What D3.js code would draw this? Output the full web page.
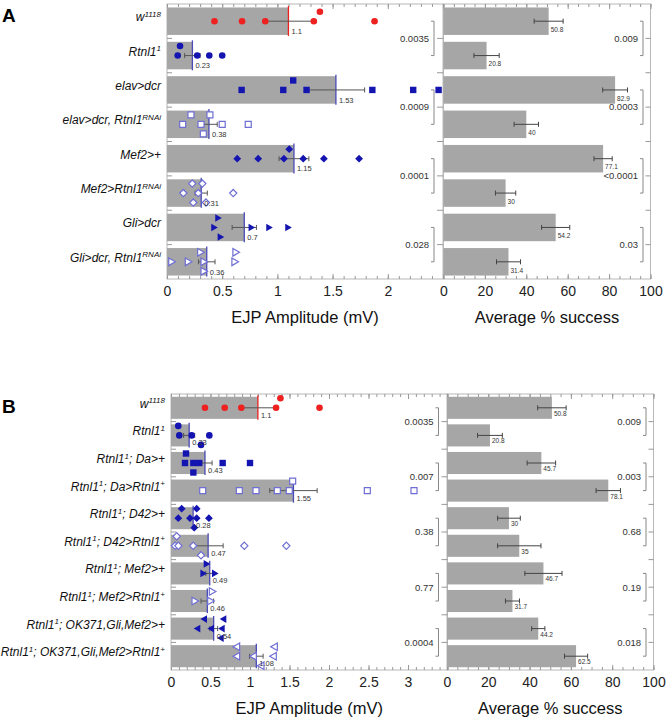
<!DOCTYPE html>
<html><head><meta charset="utf-8">
<script src="https://cdn.jsdelivr.net/npm/d3@7"></script>
<style>body{margin:0;background:#fff} svg{display:block}</style>
</head><body><svg id="c" width="668" height="717"></svg>
<script>
// ---------------- DATA ----------------
// Panel A
const labelsA = ["w{1118}", "Rtnl1{1}", "elav>dcr", "elav>dcr, Rtnl1{RNAi}", "Mef2>+", "Mef2>Rtnl1{RNAi}", "Gli>dcr", "Gli>dcr, Rtnl1{RNAi}"];
const meanA = [1.1, 0.23, 1.53, 0.38, 1.15, 0.31, 0.7, 0.36];
const seA = [0.22, 0.07, 0.26, 0.075, 0.135, 0.055, 0.11, 0.075];
const pointsA = [
  [0.43, 0.68, 0.89, 1.33, 1.385, 1.88],
  [0.118, 0.097, 0.274, 0.383, 0.50],
  [0.676, 1.053, 1.143, 1.264, 1.86, 2.23, 2.46],
  [0.217, 0.389, 0.142, 0.308, 0.50, 0.736, 0.329],
  [0.636, 0.826, 1.059, 1.107, 1.234, 1.421, 1.74],
  [0.229, 0.32, 0.148, 0.283, 0.60, 0.238, 0.353],
  [0.464, 0.428, 0.486, 0.766, 0.926, 1.098],
  [0.305, 0.624, 0.043, 0.193, 0.335, 0.615, 0.335]
];
const lanesA = [
  [0, 0, 0, 0, -1, 0],
  [-1, 0, 0, 0, 0],
  [0, 0, -1, 0, 0, 0, 0],
  [-1, -1, 0, 0, 0, 0, 1],
  [0, 0, 0, -1, 0, 0, 0],
  [-1, -1, 0, 0, 0, 1, 1],
  [-1, 0, 1, 0, 0, 0],
  [-1, -1, 0, 0, 0, 0, 1]
];
const successA = [50.8, 20.8, 82.9, 40, 77.1, 30, 54.2, 31.4];
const successSeA = [7.0, 6.1, 6.0, 5.9, 4.4, 4.9, 6.8, 5.8];
const pLeftA = ["0.0035", "0.0009", "0.0001", "0.028"];
const pRightA = ["0.009", "0.0003", "<0.0001", "0.03"];
const ampTicksA = [0, 0.5, 1, 1.5, 2];

// Panel B
const labelsB = ["w{1118}", "Rtnl1{1}", "Rtnl1{1}; Da>+", "Rtnl1{1}; Da>Rtnl1{+}", "Rtnl1{1}; D42>+", "Rtnl1{1}; D42>Rtnl1{+}",
  "Rtnl1{1}; Mef2>+", "Rtnl1{1}; Mef2>Rtnl1{+}", "Rtnl1{1}; OK371,Gli,Mef2>+", "Rtnl1{1}; OK371,Gli,Mef2>Rtnl1{+}"];
const meanB = [1.1, 0.23, 0.43, 1.55, 0.28, 0.47, 0.49, 0.46, 0.54, 1.08];
const seB = [0.22, 0.07, 0.09, 0.3, 0.05, 0.19, 0.05, 0.08, 0.05, 0.086];
const pointsB = [
  [0.43, 0.68, 0.89, 1.33, 1.385, 1.88],
  [0.092, 0.105, 0.262, 0.485, 0.38],
  [0.19, 0.177, 0.283, 0.358, 0.654, 1.0, 0.283],
  [0.401, 0.865, 1.076, 1.346, 1.497, 1.54, 2.485, 3.076],
  [0.135, 0.325, 0.092, 0.24, 0.325, 0.48, 0.295],
  [0.072, 0.051, 0.093, 0.281, 0.928, 1.46, 0.38],
  [0.452, 0.41, 0.557],
  [0.523, 0.304, 0.502],
  [0.418, 0.662, 0.333, 0.506, 0.642, 0.629],
  [0.831, 1.308, 0.831, 1.042, 1.295, 1.139]
];
const lanesB = [
  [0, 0, 0, 0, -1, 0],
  [-1, 0, 0, 0, 1],
  [-1, 0, 0, 0, 0, 0, 1],
  [0, 0, 0, 0, 0, -1, 0, 0],
  [-1, -1, 0, 0, 0, 0, 1],
  [-1, 0, 0, 0, 0, 0, 1],
  [-1, 0, 0],
  [-1, 0, 0],
  [-1, -1, 0, 0, 0, 1],
  [-1, -1, 0, 0, 0, 1]
];
const successB = [50.8, 20.8, 45.7, 78.1, 30, 35, 46.7, 31.7, 44.2, 62.5];
const successSeB = [6.9, 6.0, 6.9, 5.9, 5.5, 10.5, 9.0, 3.4, 3.2, 5.6];
const pLeftB = ["0.0035", "0.007", "0.38", "0.77", "0.0004"];
const pRightB = ["0.009", "0.003", "0.68", "0.19", "0.018"];
const ampTicksB = [0, 0.5, 1, 1.5, 2, 2.5, 3];

const successTicks = [0, 20, 40, 60, 80, 100];

// marker styles (shape, filled?, colour)
const markersA = ["circleRed", "circle", "square", "squareOpen", "diamond", "diamondOpen", "triR", "triROpen"];
const markersB = ["circleRed", "circle", "square", "squareOpen", "diamond", "diamondOpen", "triR", "triROpen", "triL", "triLOpen"];

// ---------------- DRAW ----------------
const FONT = "'Liberation Sans', Arial, Helvetica, sans-serif";
const svg = d3.select("#c");
const BLUE = "#1414b0", RED = "#ee2020", OPEN = "#6e6ed4", MEANBLUE = "#4a4ab8", BAR = "#a6a6a6", FRAME = "#b8b8b8";

function shapePath(kind) {
  const base = kind.replace("Open", "").replace("Red", "");
  const open = kind.endsWith("Open");
  if (base === "circle") { const r = 3.3; return `M${r},0A${r},${r} 0 1,1 ${-r},0A${r},${r} 0 1,1 ${r},0Z`; }
  if (base === "square") { const h = open ? 3.0 : 3.2; return `M${-h},${-h}h${2*h}v${2*h}h${-2*h}Z`; }
  if (base === "diamond") { const d = open ? 3.6 : 3.9; return `M0,${-d}L${d},0L0,${d}L${-d},0Z`; }
  if (base === "triR") return `M-3,-3.8L3.6,0L-3,3.8Z`;
  if (base === "triL") return `M3,-3.8L-3.6,0L3,3.8Z`;
}
function markerFill(kind) { return kind.endsWith("Open") ? "#fff" : (kind === "circleRed" ? RED : BLUE); }
function markerStroke(kind) { return kind.endsWith("Open") ? OPEN : "none"; }

function addLabel(sel, txt) {
  const parts = txt.split(/(\{[^}]*\})/).filter(s => s.length);
  let shifted = false;
  parts.forEach(p => {
    if (p.startsWith("{")) {
      sel.append("tspan").attr("font-size", "8px").attr("dy", shifted ? 0 : -4.5).text(p.slice(1, -1));
      shifted = true;
    } else {
      sel.append("tspan").attr("dy", shifted ? 4.5 : 0).text(p);
      shifted = false;
    }
  });
}

function panel(cfg) {
  const g = svg.append("g");
  const n = cfg.labels.length;
  const y = d3.scaleBand().domain(d3.range(n)).range([cfg.top, cfg.bottom]).paddingInner(0.2).paddingOuter(0.1);
  const xL = d3.scaleLinear().domain([0, cfg.leftMax]).range([cfg.lx0, cfg.lx1]);
  const xR = d3.scaleLinear().domain([0, 100]).range([cfg.rx0, cfg.rx1]);
  const bw = y.bandwidth(), step = y.step();
  const cy = i => y(i) + bw / 2;
  const laneOff = 9.5;

  // frames
  g.append("rect").attr("x", cfg.lx0).attr("y", cfg.top).attr("width", cfg.lx1 - cfg.lx0).attr("height", cfg.bottom - cfg.top)
    .attr("fill", "none").attr("stroke", FRAME).attr("stroke-width", 1);
  g.append("rect").attr("x", cfg.rx0).attr("y", cfg.top).attr("width", cfg.rx1 - cfg.rx0).attr("height", cfg.bottom - cfg.top)
    .attr("fill", "none").attr("stroke", FRAME).attr("stroke-width", 1);

  // minor / major ticks top & bottom
  const styleTicks = s => { s.select(".domain").remove(); s.selectAll("line").attr("stroke", "#999"); };
  const minorL = d3.range(0, cfg.leftMax + 1e-9, 0.1).map(v => +v.toFixed(2));
  const majorL = d3.range(0, cfg.leftMax + 1e-9, 0.5);
  const minorR = d3.range(0, 100.1, 5);
  const majorR = d3.range(0, 100.1, 20);
  [[d3.axisBottom, cfg.bottom, -1], [d3.axisTop, cfg.top, -1]].forEach(([ax, yy]) => {
    g.append("g").attr("transform", `translate(0,${yy})`).call(ax(xL).tickValues(minorL).tickSize(-3).tickFormat("")).call(styleTicks);
    g.append("g").attr("transform", `translate(0,${yy})`).call(ax(xL).tickValues(majorL).tickSize(-5).tickFormat("")).call(styleTicks);
    g.append("g").attr("transform", `translate(0,${yy})`).call(ax(xR).tickValues(minorR).tickSize(-3).tickFormat("")).call(styleTicks);
    g.append("g").attr("transform", `translate(0,${yy})`).call(ax(xR).tickValues(majorR).tickSize(-5).tickFormat("")).call(styleTicks);
  });
  // tick labels
  const lab = s => { s.select(".domain").remove(); s.selectAll("text").attr("font-size", "14px").attr("font-family", FONT).attr("fill", "#222"); };
  g.append("g").attr("transform", `translate(0,${cfg.bottom})`)
    .call(d3.axisBottom(xL).tickValues(cfg.ampTicks).tickSize(0).tickPadding(7).tickFormat(d3.format("~g"))).call(lab);
  g.append("g").attr("transform", `translate(0,${cfg.bottom})`)
    .call(d3.axisBottom(xR).tickValues(successTicks).tickSize(0).tickPadding(7).tickFormat(d3.format("~g"))).call(lab);

  // band boundary ticks
  for (let i = 1; i < n; i++) {
    const yb = y(i) - step * 0.1;
    [[cfg.lx0, cfg.lx0 + 5], [cfg.lx1 - 6, cfg.lx1], [cfg.rx1 - 5, cfg.rx1]].forEach(([a, b]) =>
      g.append("line").attr("x1", a).attr("x2", b).attr("y1", yb).attr("y2", yb).attr("stroke", "#999"));
  }

  // left bars
  g.selectAll(".barL").data(cfg.means).join("rect")
    .attr("x", xL(0)).attr("y", (d, i) => y(i)).attr("width", d => xL(d) - xL(0)).attr("height", bw).attr("fill", BAR);
  // mean lines
  g.selectAll(".meanL").data(cfg.means).join("line")
    .attr("x1", d => xL(d)).attr("x2", d => xL(d)).attr("y1", (d, i) => y(i) - 1.5).attr("y2", (d, i) => y(i) + bw + 1)
    .attr("stroke", (d, i) => i === 0 ? RED : MEANBLUE).attr("stroke-width", 1.3);
  // error bars
  cfg.means.forEach((m, i) => {
    const a = xL(m - cfg.se[i]), b = xL(m + cfg.se[i]), yy = cy(i);
    g.append("path").attr("d", `M${a},${yy - 2.5}V${yy + 2.5}M${a},${yy}H${b}M${b},${yy - 2.5}V${yy + 2.5}`)
      .attr("stroke", "#555").attr("fill", "none").attr("stroke-width", 1);
  });
  // points
  cfg.points.forEach((pts, i) => {
    const kind = cfg.markers[i];
    g.selectAll(null).data(pts).join("path")
      .attr("d", shapePath(kind))
      .attr("transform", (d, j) => `translate(${xL(d)},${cy(i) + cfg.lanes[i][j] * laneOff})`)
      .attr("fill", markerFill(kind)).attr("stroke", markerStroke(kind)).attr("stroke-width", 1.2);
  });
  // mean labels
  g.selectAll(".mlab").data(cfg.means).join("text")
    .attr("x", d => xL(d) + 3).attr("y", (d, i) => y(i) + bw - 1)
    .attr("font-size", "7.5px").attr("font-family", FONT).attr("fill", "#333").text(d => d);

  // right bars
  g.selectAll(".barR").data(cfg.success).join("rect")
    .attr("x", xR(0)).attr("y", (d, i) => y(i)).attr("width", d => xR(d) - xR(0)).attr("height", bw).attr("fill", BAR);
  cfg.success.forEach((m, i) => {
    const a = xR(m - cfg.successSe[i]), b = xR(m + cfg.successSe[i]), yy = cy(i);
    g.append("path").attr("d", `M${a},${yy - 2.5}V${yy + 2.5}M${a},${yy}H${b}M${b},${yy - 2.5}V${yy + 2.5}`)
      .attr("stroke", "#444").attr("fill", "none").attr("stroke-width", 1);
  });
  g.selectAll(".slab").data(cfg.success).join("text")
    .attr("x", d => xR(d) + 2).attr("y", (d, i) => y(i) + bw - 3)
    .attr("font-size", "6.5px").attr("font-family", FONT).attr("fill", "#333").text(d => d);

  // p-value brackets
  const bracket = (bx, pvals) => pvals.forEach((p, k) => {
    const y1 = cy(2 * k), y2 = cy(2 * k + 1);
    g.append("path").attr("d", `M${bx - 3},${y1}H${bx}V${y2}H${bx - 3}`).attr("fill", "none").attr("stroke", "#888").attr("stroke-width", 1);
    g.append("text").attr("x", bx - 5).attr("y", (y1 + y2) / 2).attr("dy", "0.35em").attr("text-anchor", "end")
      .attr("font-size", "9.5px").attr("font-family", FONT).attr("fill", "#333").text(p);
  });
  bracket(cfg.lx1 - 9, cfg.pLeft);
  bracket(cfg.rx1 - 7.5, cfg.pRight);

  // row labels
  cfg.labels.forEach((t, i) => {
    const tx = g.append("text").attr("x", cfg.lx0 - 6).attr("y", cy(i)).attr("dy", "0.35em").attr("text-anchor", "end")
      .attr("font-size", "12px").attr("font-style", "italic").attr("font-family", FONT).attr("fill", "#111");
    addLabel(tx, t);
  });

  // axis titles
  g.append("text").attr("x", (cfg.lx0 + cfg.lx1) / 2).attr("y", cfg.bottom + 44).attr("text-anchor", "middle")
    .attr("font-size", "16.5px").attr("font-family", FONT).attr("fill", "#111").text("EJP Amplitude (mV)");
  g.append("text").attr("x", (cfg.rx0 + cfg.rx1) / 2).attr("y", cfg.bottom + 44).attr("text-anchor", "middle")
    .attr("font-size", "16.5px").attr("font-family", FONT).attr("fill", "#111").text("Average % success");

  // panel letter
  g.append("text").attr("x", 2).attr("y", cfg.letterY).attr("font-size", "19px").attr("font-weight", "bold")
    .attr("font-family", FONT).attr("fill", "#000").text(cfg.letter);
}

panel({ letter: "A", letterY: 22, top: 4, bottom: 279, lx0: 167, lx1: 443, leftMax: 2.5, rx0: 443.5, rx1: 650.5,
  labels: labelsA, means: meanA, se: seA, points: pointsA, lanes: lanesA, markers: markersA,
  success: successA, successSe: successSeA, pLeft: pLeftA, pRight: pRightA, ampTicks: ampTicksA });
panel({ letter: "B", letterY: 413, top: 394, bottom: 670, lx0: 171, lx1: 447.5, leftMax: 3.5, rx0: 447, rx1: 653.5,
  labels: labelsB, means: meanB, se: seB, points: pointsB, lanes: lanesB, markers: markersB,
  success: successB, successSe: successSeB, pLeft: pLeftB, pRight: pRightB, ampTicks: ampTicksB });
</script>
</body></html>
